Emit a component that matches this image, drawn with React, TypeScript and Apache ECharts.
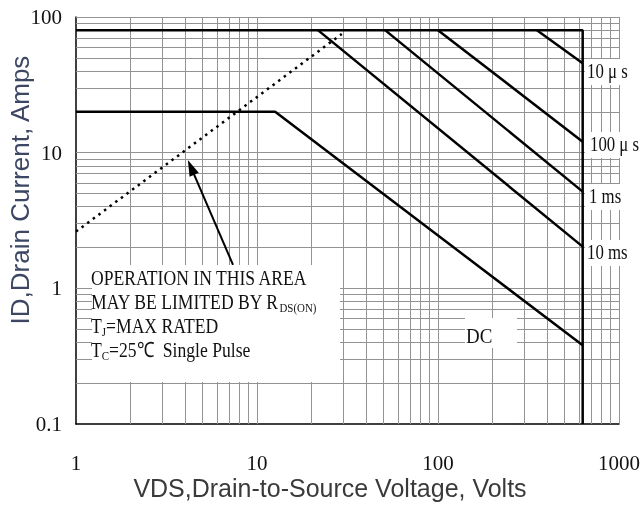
import React, { useEffect, useRef } from 'react';
import * as echarts from 'echarts';

// Axis tick values
const xTicks = [1, 10, 100, 1000];
const yTicks = [0.1, 1, 10, 100];
// Log grid lines
const xGrid = [2, 3, 4, 5, 6, 7, 8, 9, 10, 20, 30, 40, 50, 60, 70, 80, 90, 100, 200, 300, 400, 500, 600, 700, 800, 900, 1000];
const yGrid = [0.2, 0.3, 0.4, 0.5, 0.6, 0.7, 0.8, 0.9, 1, 2, 3, 4, 5, 6, 7, 8, 9, 10, 20, 30, 40, 50, 60, 70, 80, 90, 100];

// Safe operating area boundaries [VDS, ID]
const limitEnvelope = [[1, 80], [630, 80], [630, 0.1]];
const dcCurve = [[1, 20], [12.6, 20], [630, 0.38]];
const ms10Curve = [[21.7, 80], [630, 2.03]];
const ms1Curve = [[51, 80], [630, 5.16]];
const us100Curve = [[100, 80], [630, 12.05]];
const us10Curve = [[352, 80], [630, 45.6]];
const rdsOnLimit = [[1, 2.62], [29.4, 75]];
const arrowTail = [7.37, 1.49];
const arrowHead = [4.32, 7.79];

const fmt = (v: number) => String(Number(v.toPrecision(3)));

export default function App() {
  const ref = useRef<HTMLDivElement>(null);
  useEffect(() => {
    const chart = echarts.init(ref.current!, undefined, { renderer: 'svg' });
    const bold = { color: '#000', width: 2.5 };
    const curve = (data: number[][], name: string) => ({
      type: 'line', name, data, showSymbol: false, symbol: 'none', lineStyle: bold, z: 5, silent: true,
    });
    const serif = 'Liberation Serif, Times New Roman, serif';
    const annot = (x: number, y: number, text: any, rich?: any, scaleX = 0.84, size = 21) => ({
      type: 'text', x, y, scaleX, z: 20,
      style: { text, fontFamily: serif, fontSize: size, fill: '#111', textVerticalAlign: 'middle', textAlign: 'left', rich },
    });
    const rich = {
      a: { fontFamily: serif, fontSize: 21, color: '#111', lineHeight: 24 },
      s: { fontFamily: serif, fontSize: 13, color: '#111', verticalAlign: 'bottom', lineHeight: 24, padding: [8, 0, 0, 0] },
    };
    const white = (x: number, y: number, w: number, h: number) => ({
      type: 'rect', z: 15, shape: { x, y, width: w, height: h }, style: { fill: '#fff' },
    });
    chart.setOption({
      animation: false,
      grid: { left: 76, top: 17, right: 24, bottom: 84 },
      xAxis: {
        type: 'log', logBase: 10, min: 1, max: 1000,
        axisLine: { show: true, lineStyle: { color: '#000', width: 1.5 } },
        axisTick: { show: false }, splitLine: { show: false },
        axisLabel: { margin: 28, fontFamily: serif, fontSize: 21, color: '#111', formatter: fmt },
      },
      yAxis: {
        type: 'log', logBase: 10, min: 0.1, max: 100,
        axisLine: { show: true, lineStyle: { color: '#000', width: 1.5 } },
        axisTick: { show: false }, splitLine: { show: false },
        axisLabel: { margin: 14, fontFamily: serif, fontSize: 21, color: '#111', formatter: fmt },
      },
      series: [
        {
          type: 'line', name: 'grid', data: [], silent: true, z: 1,
          markLine: {
            silent: true, symbol: ['none', 'none'], label: { show: false }, emphasis: { disabled: true },
            lineStyle: { color: '#939393', width: 1, type: 'solid' },
            data: [...xGrid.map((v) => ({ xAxis: v })), ...yGrid.map((v) => ({ yAxis: v }))],
          },
        },
        curve(limitEnvelope, 'limit'),
        curve(dcCurve, 'DC'),
        curve(ms10Curve, '10ms'),
        curve(ms1Curve, '1ms'),
        curve(us100Curve, '100us'),
        curve(us10Curve, '10us'),
        {
          type: 'line', name: 'RDS(on)', data: rdsOnLimit, showSymbol: false, symbol: 'none', z: 5, silent: true,
          lineStyle: { color: '#000', width: 2.5, type: [2.5, 4.5] },
        },
        {
          type: 'line', name: 'arrow', data: [], silent: true, z: 6,
          markLine: {
            silent: true, symbol: ['none', 'triangle'], symbolSize: [10, 16], label: { show: false },
            emphasis: { disabled: true },
            lineStyle: { color: '#000', width: 2, type: 'solid' },
            data: [[{ coord: arrowTail }, { coord: arrowHead }]],
          },
        },
      ],
      graphic: [
        white(92, 265, 248, 117),
        white(585, 59, 58, 26),
        white(585, 132, 58, 26),
        white(585, 184, 58, 26),
        white(585, 240, 58, 26),
        white(465, 318, 52, 30),
        annot(91, 278, 'OPERATION IN THIS AREA'),
        annot(91, 302, '{a|MAY BE LIMITED BY R}{s|DS(ON)}', rich),
        annot(91, 326, '{a|T}{s|J}{a|=MAX RATED}', rich),
        annot(91, 350, '{a|T}{s|C}{a|=25℃  Single Pulse}', rich),
        annot(587, 72, '10 μ s', undefined, 0.84, 20),
        annot(590, 145, '100 μ s', undefined, 0.84, 20),
        annot(589, 197, '1 ms', undefined, 0.84, 20),
        annot(587, 253, '10 ms', undefined, 0.84, 20),
        annot(466, 336, 'DC', undefined, 0.95, 20),
        {
          type: 'text', x: 330, y: 488, z: 20,
          style: { text: 'VDS,Drain-to-Source Voltage, Volts', fontFamily: 'Liberation Sans, Arial, sans-serif', fontSize: 25, fill: '#3a3a3a', textAlign: 'center', textVerticalAlign: 'middle' },
        },
        {
          type: 'text', x: 20, y: 190, rotation: Math.PI / 2, z: 20,
          style: { text: 'ID,Drain Current, Amps', fontFamily: 'Liberation Sans, Arial, sans-serif', fontSize: 26, fill: '#3d4763', textAlign: 'center', textVerticalAlign: 'middle' },
        },
      ],
    });
    return () => chart.dispose();
  }, []);
  return <div ref={ref} style={{ position: 'fixed', left: 0, top: 0, width: 643, height: 508 }} />;
}
